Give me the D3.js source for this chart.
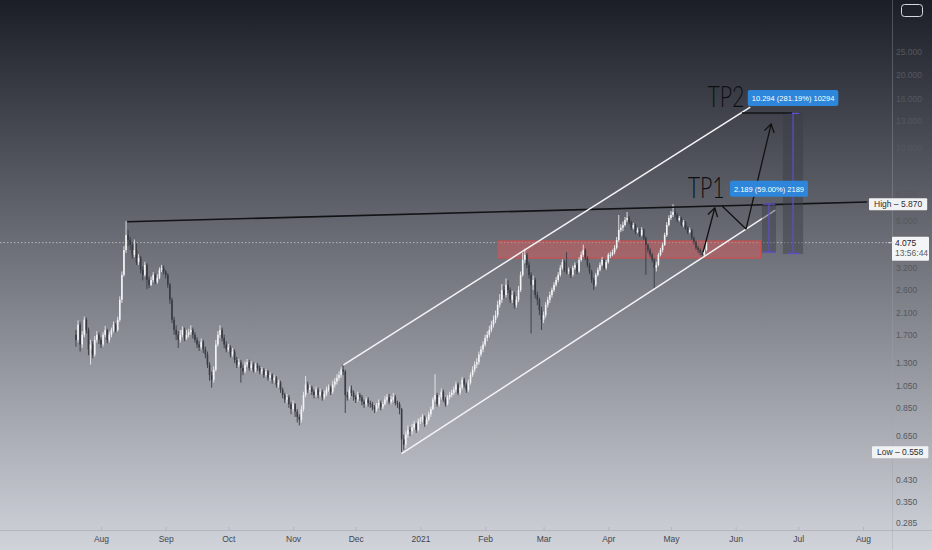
<!DOCTYPE html>
<html><head><meta charset="utf-8">
<script src="https://cdn.jsdelivr.net/npm/d3@7"></script>
<style>html,body{margin:0;padding:0;background:#1c1f27;overflow:hidden}svg{display:block}</style>
</head><body><svg id="c" width="932" height="550"></svg>
<script>
// ---------------- DATA ----------------
const startDate = "2020-07-20";
const firstOpen = 1.70;
const closes = [1.62,1.87,1.55,1.70,1.96,1.78,1.48,1.55,1.41,1.62,1.70,
1.62,1.55,1.70,1.78,1.62,1.70,1.78,1.87,1.78,1.96,
2.37,3.00,3.80,4.38,4.18,
3.99,3.63,3.80,3.39,3.53,3.15,3.00,3.30,2.86,2.73,
2.86,3.00,2.81,2.92,3.15,3.21,3.10,3.00,2.73,2.37,
1.96,1.78,1.70,1.62,1.70,1.78,1.65,1.70,1.74,1.78,
1.70,1.62,1.55,1.51,1.59,1.48,1.41,1.28,1.16,1.11,
1.22,1.55,1.70,1.78,1.65,
1.55,1.48,1.51,1.41,1.45,1.34,1.28,1.31,1.24,1.20,
1.28,1.31,1.24,1.28,1.22,1.27,1.24,1.20,1.22,1.16,
1.20,1.13,1.16,1.11,1.13,1.06,1.08,
1.01,0.96,0.92,0.94,0.88,0.84,0.88,0.82,0.78,0.76,
0.84,0.96,1.06,1.01,1.03,0.99,0.96,1.01,
0.96,0.99,0.94,0.97,1.01,1.03,0.99,1.06,1.09,1.13,1.16,1.22,1.20,
0.96,0.94,1.01,0.98,0.94,0.92,0.96,0.94,0.90,0.88,0.92,0.89,
0.88,0.855,0.84,0.87,0.89,0.855,0.88,0.92,0.94,0.90,
0.92,0.94,0.89,0.88,0.84,
0.63,0.60,0.66,0.69,0.68,
0.705,0.73,0.69,0.75,0.76,0.78,0.73,0.76,0.80,0.84,
0.92,0.96,0.88,0.94,0.99,0.92,0.88,0.94,0.96,0.98,
1.01,1.06,0.98,1.03,1.11,1.06,1.01,1.08,1.16,1.22,
1.28,1.31,1.41,1.48,1.55,
1.65,1.70,1.78,1.87,1.96,
2.05,2.26,2.37,2.60,2.48,
2.73,2.60,2.37,2.48,2.26,
2.37,2.60,3.00,3.46,3.63,
3.30,3.00,2.73,2.86,2.48,
2.37,2.15,1.96,2.05,2.26,
2.37,2.48,2.60,2.73,2.86,
3.00,3.21,3.39,3.15,3.10,
3.15,3.00,3.21,3.30,3.10,
3.46,3.63,3.80,3.53,
3.30,3.10,2.86,2.73,3.00,
3.15,3.30,3.46,3.21,3.39,3.63,
3.63,3.72,3.88,
4.18,4.60,4.69,
4.82,5.05,5.15,4.95,4.69,4.82,4.51,4.60,4.38,
4.60,4.26,3.99,
3.80,3.63,3.46,
3.21,3.30,3.63,
3.80,3.99,4.38,
4.82,5.15,5.30,5.45,
5.30,5.05,5.15,4.82,
4.95,4.69,4.51,4.60,
4.26,4.10,3.88,3.80,
3.72,3.63,3.80,4.075];
const highs = [1.78,1.95,1.92,1.76,2.02,2.00,1.82,1.62,1.60,1.68,1.76,
1.74,1.66,1.74,1.85,1.80,1.75,1.82,1.93,1.90,2.02,
2.45,3.10,3.95,5.00,4.60,
4.30,4.10,4.20,4.05,3.65,3.60,3.25,3.40,3.35,2.95,
2.95,3.08,3.05,3.02,3.22,3.30,3.28,3.15,3.05,2.78,
2.42,2.02,1.86,1.76,1.78,1.84,1.82,1.78,1.80,1.86,
1.82,1.74,1.66,1.60,1.64,1.62,1.52,1.45,1.31,1.20,
1.26,1.62,1.76,1.86,1.82,
1.70,1.60,1.56,1.54,1.50,1.48,1.38,1.35,1.34,1.28,
1.32,1.35,1.34,1.32,1.31,1.30,1.30,1.27,1.25,1.24,
1.23,1.22,1.19,1.18,1.16,1.15,1.11,
1.10,1.03,0.98,0.97,0.96,0.90,0.91,0.89,0.84,0.80,
0.87,0.99,1.15,1.09,1.06,1.05,1.01,1.04,
1.03,1.02,1.01,1.00,1.04,1.06,1.05,1.10,1.13,1.17,1.20,1.25,1.29,
1.22,0.99,1.04,1.05,1.00,0.96,0.99,0.98,0.96,0.92,0.94,0.94,
0.91,0.90,0.87,0.89,0.92,0.91,0.90,0.95,0.97,0.97,
0.95,0.98,0.96,0.91,0.90,
0.85,0.66,0.68,0.72,0.71,
0.73,0.75,0.74,0.77,0.78,0.80,0.79,0.78,0.82,0.86,
0.94,1.17,0.98,0.96,1.02,1.01,0.94,0.96,0.99,1.01,
1.04,1.09,1.08,1.06,1.14,1.13,1.08,1.11,1.19,1.26,
1.32,1.36,1.45,1.53,1.60,
1.70,1.76,1.85,1.94,2.04,
2.14,2.35,2.50,2.75,2.70,
2.90,2.85,2.66,2.58,2.55,
2.45,2.70,3.10,3.70,3.85,
3.70,3.40,3.08,2.98,2.92,
2.56,2.42,2.22,2.12,2.32,
2.44,2.56,2.66,2.80,2.94,
3.08,3.30,3.48,3.45,3.72,
3.22,3.20,3.28,3.38,3.36,
3.55,3.75,4.00,3.86,
3.58,3.36,3.15,2.92,3.06,
3.22,3.38,3.55,3.50,3.46,3.70,
3.74,3.82,3.98,
4.30,5.30,4.85,
4.98,5.20,5.45,5.25,5.02,4.92,4.88,4.70,4.65,
4.72,4.66,4.32,
4.05,3.88,3.70,
3.52,3.40,3.70,
3.88,4.08,4.48,
4.95,5.28,5.50,5.87,
5.65,5.40,5.25,5.20,
5.05,5.00,4.75,4.70,
4.65,4.32,4.15,3.95,
3.86,3.78,3.86,4.12];
const lows = [1.52,1.58,1.45,1.50,1.66,1.72,1.40,1.28,1.36,1.38,1.58,
1.56,1.50,1.52,1.66,1.57,1.58,1.66,1.74,1.74,1.75,
1.92,2.30,2.95,3.70,3.95,
3.80,3.50,3.55,3.30,3.30,3.05,2.85,2.95,2.62,2.65,
2.70,2.80,2.75,2.76,2.88,3.08,3.02,2.90,2.65,2.28,
1.90,1.70,1.62,1.50,1.58,1.66,1.60,1.62,1.66,1.70,
1.64,1.58,1.50,1.46,1.48,1.43,1.36,1.24,1.10,1.03,
1.08,1.20,1.52,1.65,1.60,
1.50,1.44,1.45,1.37,1.38,1.30,1.24,1.25,1.08,1.16,
1.18,1.25,1.21,1.21,1.19,1.19,1.21,1.17,1.17,1.13,
1.14,1.10,1.10,1.07,1.08,1.03,1.03,
0.98,0.93,0.89,0.89,0.85,0.80,0.82,0.78,0.74,0.72,
0.74,0.82,0.94,0.98,0.98,0.96,0.93,0.94,
0.93,0.94,0.91,0.92,0.95,0.99,0.96,0.97,1.03,1.06,1.10,1.13,1.16,
0.81,0.91,0.92,0.95,0.91,0.89,0.90,0.91,0.87,0.85,0.86,0.86,
0.85,0.83,0.81,0.82,0.85,0.83,0.84,0.87,0.90,0.88,
0.88,0.90,0.87,0.85,0.80,
0.558,0.57,0.58,0.64,0.65,
0.66,0.69,0.67,0.68,0.73,0.74,0.71,0.72,0.75,0.78,
0.83,0.90,0.86,0.86,0.92,0.90,0.86,0.87,0.92,0.94,
0.96,0.99,0.96,0.96,1.01,1.03,0.98,0.99,1.06,1.14,
1.19,1.24,1.28,1.38,1.44,
1.52,1.60,1.66,1.74,1.82,
1.90,2.00,2.20,2.30,2.40,
2.42,2.52,2.30,2.30,2.18,
2.20,2.32,2.55,2.95,3.35,
3.20,2.90,1.72,2.60,2.40,
2.25,2.05,1.78,1.90,2.00,
2.20,2.30,2.42,2.55,2.68,
2.80,2.95,3.15,3.08,3.02,
3.02,2.92,2.95,3.15,3.02,
3.06,3.40,3.56,3.45,
3.22,3.02,2.78,2.60,2.68,
2.95,3.10,3.25,3.15,3.15,3.34,
3.52,3.58,3.65,
3.82,4.10,4.50,
4.55,4.75,4.95,4.85,4.60,4.62,4.42,4.45,4.30,
4.32,4.18,3.00,
3.70,3.55,3.38,
2.64,3.10,3.25,
3.58,3.72,3.95,
4.30,4.75,5.05,5.20,
5.18,4.95,4.98,4.75,
4.72,4.60,4.42,4.45,
4.18,4.00,3.80,3.70,
3.62,3.52,3.55,3.75];

const priceTicks = [25,20,16,13,10,8,6.5,5,3.2,2.6,2.1,1.7,1.3,1.05,0.85,0.65,0.43,0.35,0.285];
const timeTicks = ["2020-08-01","2020-09-01","2020-10-01","2020-11-01","2020-12-01","2021-01-01","2021-02-01","2021-03-01","2021-04-01","2021-05-01","2021-06-01","2021-07-01","2021-08-01"];
const timeLabels = ["Aug","Sep","Oct","Nov","Dec","2021","Feb","Mar","Apr","May","Jun","Jul","Aug"];
const lastPrice = 4.075;
const lastTime = "13:56:44";
const highPrice = 5.870;
const lowPrice = 0.558;

// drawings (date, price)
const trendLine = [["2020-08-13T12:00",4.97],["2021-08-03T00:00",5.99]];
const channelUpper = [["2020-11-25T00:00",1.276],["2021-06-08T00:00",14.76]];
const channelLower = [["2020-12-23T00:00",0.55],["2021-06-20T00:00",5.55]];
const zone = {from:"2021-02-07T00:00", to:"2021-06-13T00:00", top:4.14, bottom:3.52};
const arrow1 = [["2021-05-16T10:00",3.73],["2021-05-22T00:00",5.66]];
const arrow2 = [["2021-05-25T12:00",5.77],["2021-06-06T00:00",4.64],["2021-06-18T00:00",12.56]];
const positions = [
  {from:"2021-06-13T14:00", to:"2021-06-20T08:00", entry:3.71, target:5.90, label:"2.189 (59.00%) 2189"},
  {from:"2021-06-23T16:00", to:"2021-07-03T08:00", entry:3.66, target:13.95, label:"10.294 (281.19%) 10294"}
];
const tp2Line = [["2021-06-04T00:00",13.95],["2021-06-28T00:00",13.95]];
const notes = [{text:"TP2", date:"2021-05-18T12:00", price:14.76},{text:"TP1", date:"2021-05-09T00:00", price:6.22}];

// ---------------- CHART ----------------
const P = s => (s.length > 10 ? d3.timeParse("%Y-%m-%dT%H:%M") : d3.timeParse("%Y-%m-%d"))(s);
const W = 932, H = 550, plotR = 892, axisY = 530;
const FONT = "'Liberation Sans', Arial, sans-serif";
const svg = d3.select("#c");
const defs = svg.append("defs");
const grad = defs.append("linearGradient").attr("id","bg").attr("x1",0).attr("y1",0).attr("x2",0).attr("y2",1);
grad.append("stop").attr("offset","0%").attr("stop-color","#1b1e26");
grad.append("stop").attr("offset","100%").attr("stop-color","#d0d3da");
defs.append("clipPath").attr("id","plot").append("rect").attr("x",0).attr("y",0).attr("width",plotR).attr("height",axisY);
const mk = defs.append("marker").attr("id","ah").attr("viewBox","-10 -10 20 20")
  .attr("markerWidth",20).attr("markerHeight",20).attr("markerUnits","userSpaceOnUse").attr("orient","auto");
mk.append("path").attr("d","M-8,-5 L0,0 L-8,5").attr("fill","none").attr("stroke","#111").attr("stroke-width",1.3);

svg.append("rect").attr("width",W).attr("height",H).attr("fill","url(#bg)");

const x = d3.scaleTime().domain([P(timeTicks[0]), P(timeTicks[timeTicks.length-1])]).range([101, 863]);
const y = d3.scaleLog().domain([20, 0.285]).range([75, 523]);
const pt = d => [x(P(d[0])), y(d[1])];

// axis separators
svg.append("line").attr("x1",0).attr("x2",W).attr("y1",axisY+0.5).attr("y2",axisY+0.5).attr("stroke","#b3b6bd").attr("stroke-width",1);
svg.append("line").attr("x1",plotR+0.5).attr("x2",plotR+0.5).attr("y1",0).attr("y2",H).attr("stroke","#9fa2a9").attr("stroke-opacity",0.35);

// time axis
const xa = svg.append("g").attr("transform",`translate(0,${axisY})`)
  .call(d3.axisBottom(x).tickValues(timeTicks.map(P)).tickFormat((d,i)=>timeLabels[i]).tickSizeInner(-3).tickSizeOuter(0).tickPadding(6));
xa.select(".domain").remove();
xa.selectAll(".tick line").attr("stroke","#b3b6bd");
xa.selectAll("text").attr("fill","#43464e").style("font-family",FONT).style("font-size","8.5px");

// price axis
const ya = svg.append("g").attr("transform",`translate(${plotR},0)`)
  .call(d3.axisRight(y).tickValues(priceTicks).tickFormat(d3.format(".3f")).tickSize(0).tickPadding(4));
ya.select(".domain").remove();
ya.selectAll("text").attr("fill","#55585f").style("font-family",FONT).style("font-size","8.5px");

const plot = svg.append("g").attr("clip-path","url(#plot)");

// last price dotted line
plot.append("line").attr("x1",0).attr("x2",plotR).attr("y1",y(lastPrice)).attr("y2",y(lastPrice))
  .attr("stroke","#c9ccd3").attr("stroke-width",1).attr("stroke-dasharray","1.5,2").attr("opacity",0.8);

// red zone
plot.append("rect").attr("x",x(P(zone.from))).attr("width",x(P(zone.to))-x(P(zone.from)))
  .attr("y",y(zone.top)).attr("height",y(zone.bottom)-y(zone.top))
  .attr("fill","#d65a5a").attr("fill-opacity",0.5).attr("stroke","#d44c4c").attr("stroke-width",1);

// candles
const t0 = P(startDate);
const candles = closes.map((c,i)=>({date:d3.timeDay.offset(t0,i), open: i ? closes[i-1] : firstOpen, close:c, high:highs[i], low:lows[i]}));
const cg = plot.append("g");
cg.selectAll("line").data(candles).join("line")
  .attr("x1",d=>x(d.date)).attr("x2",d=>x(d.date))
  .attr("y1",d=>y(d.high)).attr("y2",d=>y(d.low))
  .attr("stroke",d=>d.close>=d.open?"#e9eaec":"#393b43").attr("stroke-width",0.9);
cg.selectAll("rect").data(candles).join("rect")
  .attr("x",d=>x(d.date)-0.8).attr("width",1.6)
  .attr("y",d=>y(Math.max(d.open,d.close)))
  .attr("height",d=>Math.max(1,Math.abs(y(d.open)-y(d.close))))
  .attr("fill",d=>d.close>=d.open?"#f2f3f5":"#393b43");

// trend line & channel
const line = d3.line().x(d=>pt(d)[0]).y(d=>pt(d)[1]);
plot.append("path").attr("d",line(trendLine)).attr("fill","none").attr("stroke","#121317").attr("stroke-width",1.6);
plot.append("path").attr("d",line(channelUpper)).attr("fill","none").attr("stroke","#f4f4f6").attr("stroke-width",1.5);
plot.append("path").attr("d",line(channelLower)).attr("fill","none").attr("stroke","#f4f4f6").attr("stroke-width",1.5);

// positions
positions.forEach(p=>{
  const x0 = x(P(p.from)), x1 = x(P(p.to)), yt = y(p.target), yb = y(p.entry);
  plot.append("rect").attr("x",x0).attr("width",x1-x0).attr("y",yt).attr("height",yb-yt)
    .attr("fill","#3a3b45").attr("fill-opacity",0.45);
  const xm = (x0+x1)/2;
  plot.append("line").attr("x1",xm).attr("x2",xm).attr("y1",yt).attr("y2",yb).attr("stroke","#5b4fd0").attr("stroke-width",1.4).attr("opacity",0.85);
  plot.append("line").attr("x1",xm-6).attr("x2",xm+6).attr("y1",yt+0.5).attr("y2",yt+0.5).attr("stroke","#5b4fd0").attr("stroke-width",1.2);
  plot.append("line").attr("x1",xm-6).attr("x2",xm+6).attr("y1",yb-0.5).attr("y2",yb-0.5).attr("stroke","#5b4fd0").attr("stroke-width",1.2);
});

// TP2 horizontal line
plot.append("path").attr("d",line(tp2Line)).attr("fill","none").attr("stroke","#121317").attr("stroke-width",1.5);

// arrows
plot.append("path").attr("d",line(arrow1)).attr("fill","none").attr("stroke","#111").attr("stroke-width",1.3).attr("marker-end","url(#ah)");
plot.append("path").attr("d",line(arrow2)).attr("fill","none").attr("stroke","#111").attr("stroke-width",1.3)
  .attr("stroke-linejoin","round").attr("marker-end","url(#ah)");

// handwritten notes
notes.forEach(n=>{
  const [nx,ny] = pt([n.date,n.price]);
  plot.append("text").attr("x",nx).attr("y",ny).text(n.text)
    .attr("fill","#0e0f12").style("font-family","Lato, 'Open Sans', sans-serif").style("font-weight",300)
    .style("font-size","29px").attr("textLength",37).attr("lengthAdjust","spacingAndGlyphs");
});

// position labels (blue)
positions.forEach(p=>{
  const x0 = x(P(p.from)), x1 = x(P(p.to)), yt = y(p.target);
  const xm = (x0+x1)/2;
  const g = svg.append("g");
  const t = g.append("text").attr("x",xm).attr("y",yt-12).attr("text-anchor","middle").attr("fill","#ffffff")
    .style("font-family",FONT).style("font-size","7.5px").text(p.label);
  const w = t.node().getComputedTextLength()+8;
  g.insert("rect","text").attr("x",xm-w/2).attr("y",yt-23).attr("width",w).attr("height",16).attr("rx",2).attr("fill","#2d86d9");
});

// High / Low labels
function tagLabel(txt, price, xLeft){
  const yy = y(price);
  const g = svg.append("g");
  const t = g.append("text").attr("x",xLeft+5).attr("y",yy+3).attr("fill","#2a2d35").style("font-family",FONT).style("font-size","8.5px").text(txt);
  const w = t.node().getComputedTextLength()+10;
  g.insert("rect","text").attr("x",xLeft).attr("y",yy-6).attr("width",w).attr("height",12).attr("fill","#f1f2f4").attr("rx",1);
}
tagLabel("High \u2013 " + highPrice.toFixed(3), highPrice, 869);
tagLabel("Low \u2013 " + lowPrice.toFixed(3), lowPrice, 872);

// last price box
{
  const yy = y(lastPrice);
  svg.append("rect").attr("x",plotR).attr("y",yy-6).attr("width",37).attr("height",24).attr("fill","#f4f5f7").attr("rx",1);
  svg.append("line").attr("x1",plotR-4).attr("x2",plotR+1).attr("y1",yy).attr("y2",yy).attr("stroke","#c9ccd3");
  svg.append("text").attr("x",plotR+3).attr("y",yy+3).attr("fill","#1f2229").style("font-family",FONT).style("font-size","8.5px").text(lastPrice.toFixed(3));
  svg.append("text").attr("x",plotR+3).attr("y",yy+13).attr("fill","#5a5d64").style("font-family",FONT).style("font-size","8.5px").text(lastTime);
}

// top-right button
svg.append("rect").attr("x",901.5).attr("y",4.5).attr("width",21).attr("height",12).attr("rx",3)
  .attr("fill","none").attr("stroke","#d6d8de").attr("stroke-width",1);
</script>
</body></html>
